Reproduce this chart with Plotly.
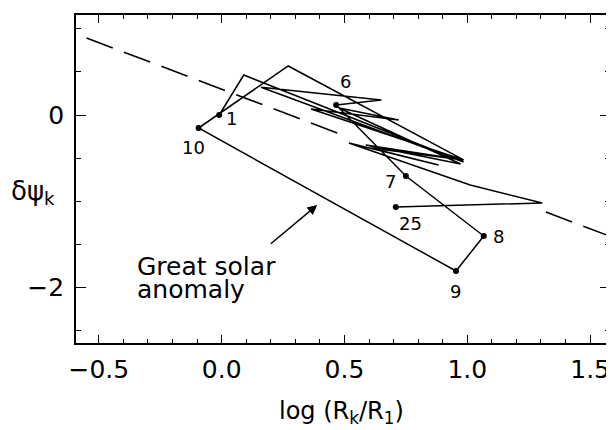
import plotly.graph_objects as go

# trajectory k = 1..25 : x = log(R_k/R_1), y = delta psi_k
k_index = list(range(1, 26))
log_r = [-0.01, 0.09, 0.985, 0.16, 0.65, 0.466, 0.75, 1.067, 0.954, -0.094,
         0.271, 0.985, 0.364, 0.721, 0.478, 0.973, 0.587, 0.985, 0.607, 0.883,
         0.64, 0.518, 1.012, 1.305, 0.709]
dpsi = [0.0, 0.464, -0.546, 0.322, 0.174, 0.116, -0.708, -1.405, -1.811, -0.151,
        0.569, -0.522, 0.07, -0.058, 0.081, -0.569, -0.348, -0.522, -0.383, -0.58,
        -0.406, -0.325, -0.813, -1.021, -1.068]

marked_k = [1, 6, 7, 8, 9, 10, 25]

# dashed reference line (two visible pieces)
dash_x = [-0.55, 0.48, None, 1.32, 1.57]
dash_y = [0.894, -0.218, None, -1.126, -1.396]

x_ticks = [-0.5, 0.0, 0.5, 1.0, 1.5]
y_ticks = [0, -2]

FONT = "DejaVu Sans"

fig = go.Figure()
fig.add_trace(go.Scatter(x=dash_x, y=dash_y, mode="lines",
                         line=dict(color="black", width=1.6, dash="28px,12px"),
                         hoverinfo="skip", showlegend=False))
fig.add_trace(go.Scatter(x=log_r, y=dpsi, mode="lines",
                         line=dict(color="black", width=1.5),
                         showlegend=False))
mx = [log_r[k - 1] for k in marked_k]
my = [dpsi[k - 1] for k in marked_k]
fig.add_trace(go.Scatter(x=mx, y=my, mode="markers",
                         marker=dict(color="black", size=6),
                         showlegend=False))

# point labels (pixel offsets from the point)
offsets = {1: (12, -3), 10: (-5, -19), 6: (9, 24), 7: (-15, -6),
           8: (15, 0), 9: (0, -21), 25: (15, -17)}
for k in marked_k:
    dx, dy = offsets[k]
    fig.add_annotation(x=log_r[k - 1], y=dpsi[k - 1], text=str(k),
                       showarrow=False, xshift=dx, yshift=dy,
                       font=dict(family=FONT, size=18, color="black"))

# arrow + text
fig.add_annotation(x=0.389, y=-1.045, ax=0.194, ay=-1.509, xref="x", yref="y",
                   axref="x", ayref="y", text="", showarrow=True,
                   arrowhead=2, arrowsize=1.3, arrowwidth=1.5, arrowcolor="black")
fig.add_annotation(x=-0.353, y=-1.764, text="Great solar", showarrow=False,
                   xanchor="left", yanchor="middle",
                   font=dict(family=FONT, size=25, color="black"))
fig.add_annotation(x=-0.353, y=-2.031, text="anomaly", showarrow=False,
                   xanchor="left", yanchor="middle",
                   font=dict(family=FONT, size=25, color="black"))

# axis titles
fig.add_annotation(xref="paper", yref="paper", x=0.498, y=-0.213,
                   text="log (R<sub>k</sub>/R<sub>1</sub>)", showarrow=False,
                   xanchor="center", yanchor="middle",
                   font=dict(family=FONT, size=24, color="black"))
fig.add_annotation(xref="paper", yref="paper", x=-0.08, y=0.46,
                   text="δψ<sub>k</sub>", showarrow=False,
                   xanchor="center", yanchor="middle",
                   font=dict(family=FONT, size=26, color="black"))

fig.update_xaxes(range=[-0.593, 1.581], tickvals=x_ticks,
                 ticktext=[f"{v:.1f}" if v >= 0 else f"\u2212{abs(v):.1f}" for v in x_ticks],
                 ticks="inside", ticklen=8, tickwidth=1.3, tickcolor="black",
                 minor=dict(dtick=0.1, tick0=0, ticks="inside", ticklen=4,
                            tickcolor="black", tickwidth=1.2),
                 showline=True, linecolor="black", linewidth=1.8, mirror="allticks",
                 showgrid=False, zeroline=False, ticklabelstandoff=3,
                 tickfont=dict(family=FONT, size=25, color="black"))
fig.update_yaxes(range=[-2.647, 1.161], tickvals=y_ticks,
                 ticktext=["0", "\u22122"],
                 ticks="inside", ticklen=10, tickwidth=1.3, tickcolor="black",
                 minor=dict(dtick=0.5, tick0=0, ticks="inside", ticklen=5,
                            tickcolor="black", tickwidth=1.2),
                 showline=True, linecolor="black", linewidth=1.8, mirror="allticks",
                 showgrid=False, zeroline=False, ticklabelstandoff=5,
                 tickfont=dict(family=FONT, size=25, color="black"))

# page body has an 8px margin: shrink the figure so the plot box lands where it should
fig.update_layout(width=606, height=422, margin=dict(l=68, r=2, t=7, b=87),
                  plot_bgcolor="white", paper_bgcolor="white", showlegend=False)

fig.write_html("out.html")
